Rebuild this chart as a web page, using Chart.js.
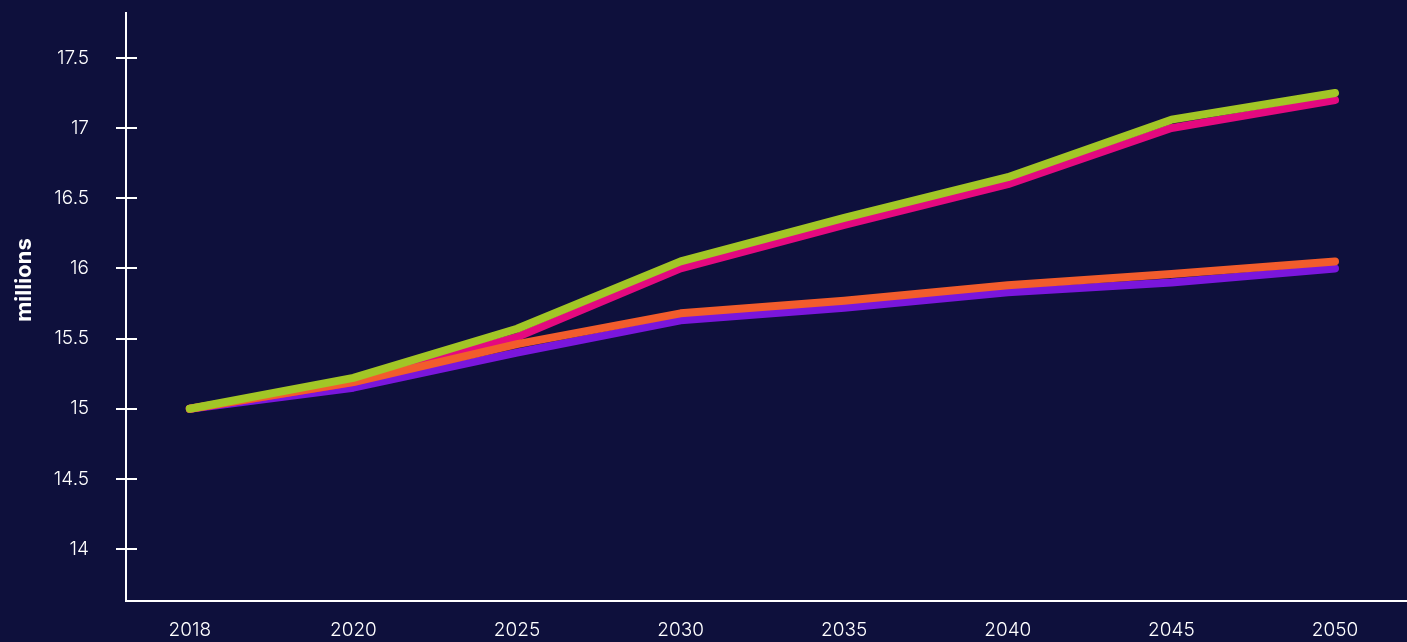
<!DOCTYPE html>
<html>
<head>
<meta charset="utf-8">
<script src="https://cdn.jsdelivr.net/npm/chart.js@4/dist/chart.umd.min.js"></script>
<style>
  html, body { margin: 0; padding: 0; background: #0e103c; }
  #wrap { width: 1407px; height: 642px; position: relative; }
</style>
</head>
<body>
<div id="wrap"><canvas id="chart"></canvas></div>
<script>
// Projection years shown along the x axis
const years = ['2018', '2020', '2025', '2030', '2035', '2040', '2045', '2050'];

// Population projections (millions), one array per scenario
const seriesGreen  = [15.0, 15.22, 15.57, 16.05, 16.36, 16.65, 17.06, 17.25];
const seriesOrange = [15.0, 15.19, 15.46, 15.68, 15.77, 15.88, 15.96, 16.05];
const seriesPink   = [15.0, 15.19, 15.51, 16.0, 16.31, 16.6, 17.0, 17.2];
const seriesPurple = [15.0, 15.15, 15.40, 15.63, 15.72, 15.83, 15.90, 16.0];

// Value axis tick labels
const yTicks = [14, 14.5, 15, 15.5, 16, 16.5, 17, 17.5];
const yTitle = 'millions';

const WHITE = '#ffffff';
const FONT = "'Inter', 'Lato', sans-serif";

const toPoints = arr => arr.map((v, i) => ({ x: i, y: v }));

const lineStyle = color => ({
  borderColor: color,
  backgroundColor: color,
  borderWidth: 8,
  borderCapStyle: 'round',
  borderJoinStyle: 'round',
  pointRadius: 0,
  pointHoverRadius: 0,
  tension: 0,
  fill: false
});

// Tick marks that cross the y axis line, plus the rotated axis title
const axisDecor = {
  id: 'axisDecor',
  afterDraw(chart) {
    const { ctx, scales: { y } } = chart;
    const ax = chart.chartArea.left;
    ctx.save();
    ctx.strokeStyle = WHITE;
    ctx.lineWidth = 2;
    yTicks.forEach(v => {
      const py = Math.round(y.getPixelForValue(v));
      ctx.beginPath();
      ctx.moveTo(ax - 10, py);
      ctx.lineTo(ax + 11, py);
      ctx.stroke();
    });
    ctx.translate(24, 280);
    ctx.rotate(-Math.PI / 2);
    ctx.fillStyle = WHITE;
    ctx.font = `700 22px ${FONT}`;
    ctx.textAlign = 'center';
    ctx.textBaseline = 'middle';
    ctx.fillText(yTitle, 0, 0);
    ctx.restore();
  }
};

new Chart(document.getElementById('chart'), {
  type: 'line',
  data: {
    datasets: [
      { label: 'Scenario 1', data: toPoints(seriesGreen),  ...lineStyle('#a2c626') },
      { label: 'Scenario 2', data: toPoints(seriesOrange), ...lineStyle('#f25c2c') },
      { label: 'Scenario 3', data: toPoints(seriesPink),   ...lineStyle('#e4097f') },
      { label: 'Scenario 4', data: toPoints(seriesPurple), ...lineStyle('#7a16dc') }
    ]
  },
  options: {
    responsive: true,
    maintainAspectRatio: false,
    animation: false,
    layout: { padding: { top: 13, right: 0, left: 0, bottom: 0 } },
    plugins: {
      legend: { display: false },
      tooltip: { enabled: false }
    },
    scales: {
      x: {
        type: 'linear',
        min: -0.39,
        max: 7.44,
        afterBuildTicks: s => { s.ticks = years.map((_, i) => ({ value: i })); },
        afterFit: s => { s.height = 41; s.paddingLeft = 0; s.paddingRight = 0; },
        grid: { display: false, drawTicks: false },
        border: { display: true, color: WHITE, width: 2 },
        ticks: {
          color: WHITE,
          font: { family: FONT, size: 19, weight: 300 },
          padding: 18,
          maxRotation: 0,
          autoSkip: false,
          callback: v => years[v]
        }
      },
      y: {
        type: 'linear',
        min: 13.63,
        max: 17.82,
        afterBuildTicks: s => { s.ticks = yTicks.map(v => ({ value: v })); },
        afterFit: s => { s.width = 126; s.paddingTop = 0; s.paddingBottom = 0; },
        grid: { display: false, drawTicks: false },
        border: { display: true, color: WHITE, width: 2 },
        ticks: {
          color: WHITE,
          font: { family: FONT, size: 19, weight: 300 },
          padding: 37,
          callback: v => String(v)
        }
      }
    }
  },
  plugins: [axisDecor]
});
</script>
</body>
</html>
